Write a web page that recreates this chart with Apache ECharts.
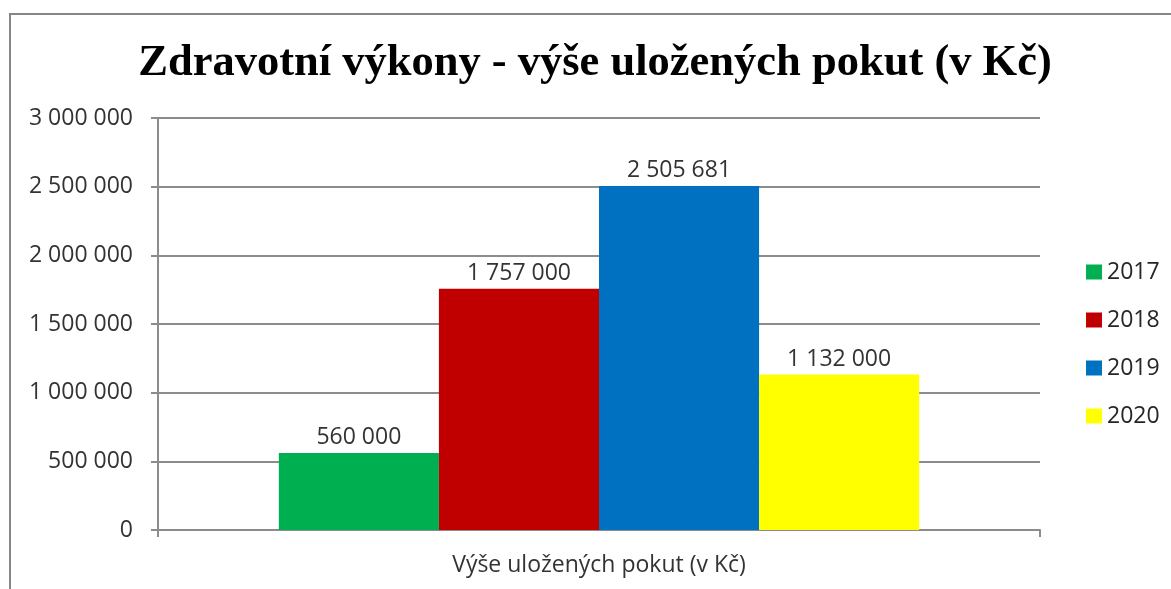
<!DOCTYPE html>
<html>
<head>
<meta charset="utf-8">
<script src="https://cdn.jsdelivr.net/npm/echarts@6/dist/echarts.min.js"></script>
<style>html,body{margin:0;padding:0;background:#fff}#c{width:1171px;height:589px}</style>
</head>
<body>
<div id="c"></div>
<script>
const titleText = 'Zdravotní výkony - výše uložených pokut (v Kč)';
const categories = ['Výše uložených pokut (v Kč)'];
const seriesNames = ['2017', '2018', '2019', '2020'];
const seriesValues = [560000, 1757000, 2505681, 1132000];
const seriesColors = ['#00B050', '#C00000', '#0070C0', '#FFFF00'];
const yTicks = [0, 500000, 1000000, 1500000, 2000000, 2500000, 3000000];

function fmt(v) {
  return String(Math.round(v)).replace(/\B(?=(\d{3})+(?!\d))/g, ' ');
}

const chart = echarts.init(document.getElementById('c'), null, {renderer: 'canvas'});
const lineColor = '#8c8c8c';
const textColor = '#333333';
const font = 'Open Sans';

chart.setOption({
  animation: false,
  backgroundColor: '#fff',
  graphic: [{
    type: 'rect',
    shape: {x: 10, y: 14, width: 1300, height: 700},
    style: {fill: 'none', stroke: '#868686', lineWidth: 2},
    silent: true
  }],
  title: {
    text: titleText,
    left: 590,
    textAlign: 'center',
    top: 36,
    textStyle: {fontFamily: 'Liberation Serif', fontWeight: 'bold', fontSize: 44.5, color: '#000'}
  },
  legend: {
    orient: 'vertical',
    left: 1081,
    top: 255,
    itemWidth: 16,
    itemHeight: 15,
    itemGap: 24,
    icon: 'rect',
    textStyle: {fontFamily: font, fontSize: 23, color: '#262626', lineHeight: 24},
    data: seriesNames
  },
  grid: {left: 158, right: 131, top: 118, bottom: 59, containLabel: false},
  xAxis: {
    type: 'category',
    data: categories,
    boundaryGap: true,
    axisLine: {lineStyle: {color: lineColor, width: 2}},
    axisTick: {show: true, length: 7, lineStyle: {color: lineColor, width: 2}},
    axisLabel: {fontFamily: font, fontSize: 23, color: textColor, margin: 24}
  },
  yAxis: {
    type: 'value',
    min: 0,
    max: 3000000,
    interval: 500000,
    axisLine: {show: true, lineStyle: {color: lineColor, width: 2}},
    axisTick: {show: true, length: 7, lineStyle: {color: lineColor, width: 2}},
    splitLine: {lineStyle: {color: lineColor, width: 2}},
    axisLabel: {fontFamily: font, fontSize: 23, color: textColor, margin: 25,
      formatter: v => yTicks.indexOf(v) >= 0 ? fmt(v) : ''}
  },
  series: seriesNames.map((name, i) => ({
    name: name,
    type: 'bar',
    data: [seriesValues[i]],
    itemStyle: {color: seriesColors[i]},
    barGap: '0%',
    barCategoryGap: '27.4%',
    label: {
      show: true,
      position: 'top',
      distance: 4,
      fontFamily: font,
      fontSize: 23,
      color: textColor,
      formatter: p => fmt(p.value)
    }
  }))
});
</script>
</body>
</html>
